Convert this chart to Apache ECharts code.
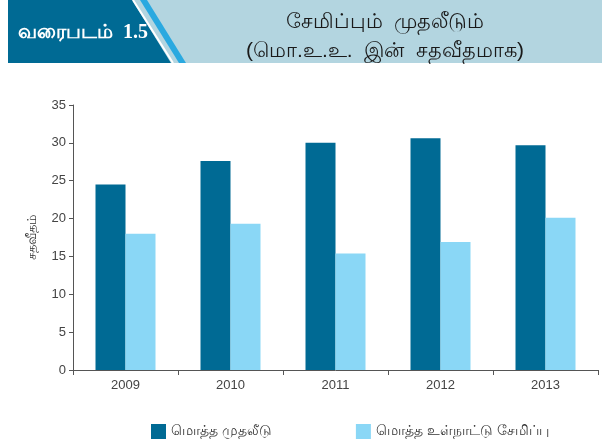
<!DOCTYPE html>
<html lang="ta">
  <head>
    <meta charset="UTF-8" />
    <title>சேமிப்பும் முதலீடும்</title>
    <script src="https://cdn.jsdelivr.net/npm/echarts@6/dist/echarts.min.js"></script>
    <style>
      html,
      body {
        margin: 0;
        padding: 0;
        background: #fff;
      }
      #chart {
        width: 602px;
        height: 446px;
      }
    </style>
  </head>
  <body>
    <div id="chart"></div>
    <script>
      // data
      const years = ["2009", "2010", "2011", "2012", "2013"];
      const investment = [24.5, 27.6, 30.0, 30.6, 29.7];
      const domesticSaving = [18.0, 19.3, 15.4, 16.9, 20.1];
      const seriesNames = ["மொத்த முதலீடு", "மொத்த உள்நாட்டு சேமிப்பு"];

      const chart = echarts.init(document.getElementById("chart"));

      const option = {
        backgroundColor: "#fff",
        animation: false,
        textStyle: { fontFamily: "sans-serif" },
        title: {
          text: "சேமிப்பும்  முதலீடும்\n(மொ.உ.உ.  இன்  சதவீதமாக)",
          left: 380,
          top: 3,
          textAlign: "center",
          textStyle: {
            fontSize: 21,
            fontWeight: "normal",
            color: "#1a1a1a",
            lineHeight: 29,
          },
        },
        graphic: [
          {
            type: "rect",
            z: -1,
            shape: { x: 8, y: 0, width: 594, height: 63 },
            style: { fill: "#b3d5e0" },
          },
          {
            type: "polygon",
            z: 0,
            shape: { points: [[140, 0], [147, 0], [186, 63], [179, 63]] },
            style: { fill: "#2aa9e0" },
          },
          {
            type: "polygon",
            z: 0,
            shape: { points: [[8, 0], [132, 0], [171, 63], [8, 63]] },
            style: { fill: "#006a94" },
          },
          {
            type: "polyline",
            z: 1,
            shape: { points: [[133, 0], [173, 63]] },
            style: { stroke: "#fff", lineWidth: 2 },
          },
          {
            type: "text",
            z: 2,
            left: 18,
            top: 23,
            style: {
              text: "வரைபடம்  1.5",
              fill: "#fff",
              font: "bold 20px serif",
            },
          },
        ],
        legend: {
          data: seriesNames,
          left: 146,
          top: 419,
          itemWidth: 15,
          itemHeight: 15,
          itemGap: 84,
          icon: "rect",
          textStyle: { fontSize: 14, color: "#333" },
        },
        grid: {
          left: 73,
          right: 4,
          top: 105,
          bottom: 76,
        },
        xAxis: {
          type: "category",
          data: years,
          axisLine: { lineStyle: { color: "#555" } },
          axisTick: { show: true, length: 5, lineStyle: { color: "#555" } },
          axisLabel: { color: "#444", fontSize: 13, margin: 9 },
        },
        yAxis: {
          type: "value",
          min: 0,
          max: 35,
          interval: 5,
          name: "சதவீதம்",
          nameLocation: "middle",
          nameRotate: 90,
          nameGap: 34,
          nameTextStyle: { fontSize: 13, color: "#333" },
          axisLine: { show: true, lineStyle: { color: "#555" } },
          axisTick: { show: true, length: 4, lineStyle: { color: "#555" } },
          axisLabel: { color: "#444", fontSize: 13, margin: 7 },
          splitLine: { show: false },
        },
        series: [
          {
            name: seriesNames[0],
            type: "bar",
            data: investment,
            barWidth: 30,
            barGap: "0%",
            itemStyle: { color: "#006a94" },
          },
          {
            name: seriesNames[1],
            type: "bar",
            data: domesticSaving,
            barWidth: 30,
            itemStyle: { color: "#8ad7f6" },
          },
        ],
      };

      chart.setOption(option);
    </script>
  </body>
</html>
